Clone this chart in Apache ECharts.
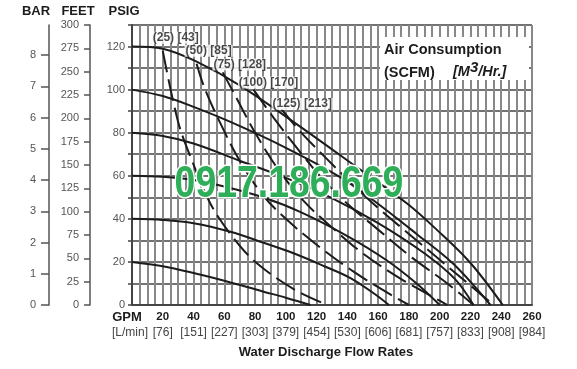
<!DOCTYPE html>
<html><head><meta charset="utf-8">
<script src="https://cdn.jsdelivr.net/npm/echarts@6/dist/echarts.min.js"></script>
<style>html,body{margin:0;padding:0;background:#fff}#c{width:577px;height:369px}</style>
</head><body><div id="c"></div>
<script>
// ---- data ----
const gpmTicks = [20,40,60,80,100,120,140,160,180,200,220,240,260];
const lpmTicks = [76,151,227,303,379,454,530,606,681,757,833,908,984];
const barTicks = [0,1,2,3,4,5,6,7,8];
// pump curves at inlet air pressure (GPM, PSIG)
const curve120 = [[0,120],[20,119],[42,113],[70,102],[107,84],[148,63],[179,47],[198,35],[220,19.5],[241,0]];
const curve100 = [[0,100],[20,97],[40,92],[64,85],[100,73],[135,59.5],[159,47.5],[185,33],[209,19],[233,0]];
const curve80  = [[0,80],[20,78.5],[40,75],[70,67],[100,59],[129,50],[160,38],[190,24],[210,12],[222,0]];
const curve60  = [[0,60],[20,59.5],[40,58],[60,55],[85,50],[110,43],[140,32],[165,21],[185,10],[200,0]];
const curve40  = [[0,40],[20,39.5],[40,38],[64,34],[85,29],[105,24],[125,18],[142,12.5],[158,5],[167,0]];
const curve20  = [[0,20],[20,18],[42,14.5],[60,11.3],[85,6.3],[100,3.4],[116,0]];
// air consumption lines
const scfm25  = [[20,118],[30,85],[39,67],[51,47],[65,32],[81,19.5],[106,7],[127,0]];
const scfm50  = [[42,112],[47,101],[57,85],[70,67],[85,51],[100,40],[120,28],[145,15],[170,4],[180,0]];
const scfm75  = [[59,108],[68,96],[80,80],[95,63],[112,48],[130,36],[150,24],[175,12],[200,2],[205,0]];
const scfm100 = [[79,100],[92,87],[106,74],[122,60],[140,47],[160,35],[182,22],[205,10],[222,0]];
const scfm125 = [[97,91],[110,80],[125,69],[142,57],[160,45],[180,33],[200,21],[220,9],[235,0]];
const scfmLabels = ['(25) [43]','(50) [85]','(75) [128]','(100) [170]','(125) [213]'];
const scfmLabelOffset = [[13,-13],[12,-13],[17,-8],[15,-7],[21,-5]];

const pumpCurves = [curve120,curve100,curve80,curve60,curve40,curve20];
const scfmCurves = [scfm25,scfm50,scfm75,scfm100,scfm125];

const chart = echarts.init(document.getElementById('c'));
const F = '"Liberation Sans", Arial, sans-serif';
const series = [];
pumpCurves.forEach(d => series.push({
  type:'line', data:d, smooth:0.35, showSymbol:false, silent:true,
  lineStyle:{color:'#1c1c1c', width:2}, z:3
}));
scfmCurves.forEach((d,i) => series.push({
  type:'line', data:d, smooth:0.35, showSymbol:false, silent:true,
  lineStyle:{color:'#1c1c1c', width:2, type:[22,7]}, z:3
}));
series.push({
  type:'scatter', symbolSize:0, silent:true, z:6,
  data: scfmCurves.map((d,i)=>({value:d[0], name:scfmLabels[i],
    label:{show:true, formatter:'{b}', offset:scfmLabelOffset[i], position:'inside',
      color:'#1c1c1c', fontFamily:F, fontSize:12, fontWeight:'bold',
      backgroundColor:'#fff', padding:[0,1]}}))
});

chart.setOption({
  animation:false,
  grid:{left:132, right:45, top:25, bottom:64},
  xAxis:{type:'value', min:0, max:260, interval:5,
    axisLine:{show:true, onZero:false, lineStyle:{color:'#444', width:2}},
    axisTick:{show:false},
    splitLine:{show:true, lineStyle:{color:'#888', width:2}},
    axisLabel:{margin:4, interval:0, lineHeight:16, formatter:v=>{
      if (v===0) return '{g|GPM}\n{h|[L/min]}';
      const i = gpmTicks.indexOf(v);
      return i<0 ? '' : '{a|'+v+'}\n{b|['+lpmTicks[i]+']}';
    }, rich:{
      a:{fontFamily:F, fontSize:11.5, fontWeight:'bold', color:'#1c1c1c', lineHeight:16},
      b:{fontFamily:F, fontSize:12, color:'#444', lineHeight:16},
      g:{fontFamily:F, fontSize:13, fontWeight:'bold', color:'#1c1c1c', lineHeight:16, padding:[0,10,0,0]},
      h:{fontFamily:F, fontSize:12, color:'#444', lineHeight:16, padding:[0,4,0,0]}
    }},
    name:'Water Discharge Flow Rates', nameLocation:'middle', nameGap:33,
    nameTextStyle:{fontFamily:F, fontSize:13, fontWeight:'bold', color:'#1c1c1c', padding:[0,12,0,0]}
  },
  yAxis:[
    {type:'value', min:0, max:130, interval:10, position:'left',
     name:'PSIG', nameLocation:'end', nameGap:7,
     nameTextStyle:{fontFamily:F, fontSize:13, fontWeight:'bold', color:'#1c1c1c', padding:[0,16,0,0]},
     axisLine:{show:true, lineStyle:{color:'#444', width:2}},
     axisTick:{show:true, length:4, lineStyle:{color:'#444', width:1.5}},
     splitLine:{show:true, lineStyle:{color:'#444', width:1.6}},
     axisLabel:{margin:7, fontFamily:F, fontSize:11, color:'#555', formatter:v=>v%20===0?String(v):''}},
    {type:'value', min:0, max:300, interval:25, position:'left', offset:42,
     name:'FEET', nameLocation:'end', nameGap:7,
     nameTextStyle:{fontFamily:F, fontSize:13, fontWeight:'bold', color:'#1c1c1c', padding:[0,24,0,0]},
     axisLine:{show:true, lineStyle:{color:'#555', width:1.5}},
     axisTick:{show:true, length:6, lineStyle:{color:'#555', width:1.5}},
     splitLine:{show:false},
     axisLabel:{margin:11, fontFamily:F, fontSize:11, color:'#555'}},
    {type:'value', min:0, max:130/14.5038, position:'left', offset:83,
     name:'BAR', nameLocation:'end', nameGap:7,
     nameTextStyle:{fontFamily:F, fontSize:13, fontWeight:'bold', color:'#1c1c1c', padding:[0,26,0,0]},
     axisLine:{show:true, lineStyle:{color:'#555', width:1.5}},
     axisTick:{show:true, length:8, customValues:barTicks, lineStyle:{color:'#555', width:1.5}},
     splitLine:{show:false},
     axisLabel:{margin:13, customValues:barTicks, fontFamily:F, fontSize:11, color:'#555'}}
  ],
  series:series,
  graphic:[
    {type:'rect', shape:{x:380, y:37, width:149, height:43}, style:{fill:'#fff'}, z:10},
    {type:'text', x:384, y:50, z:11, style:{text:'Air Consumption', font:'bold 14.5px '+F, fill:'#1c1c1c', verticalAlign:'middle'}},
    {type:'text', x:384, y:73, z:11, style:{text:'(SCFM)', font:'bold 14.5px '+F, fill:'#1c1c1c', verticalAlign:'middle'}},
    {type:'text', x:453, y:72, z:11, style:{text:'{m|[M}{s|3}{m|/Hr.]}', verticalAlign:'middle',
      rich:{m:{font:'italic bold 14.5px '+F, fill:'#1c1c1c'}, s:{font:'italic bold 15px '+F, fill:'#1c1c1c', padding:[0,0,9,0]}}}},
    {type:'text', x:289, y:185, scaleX:0.85, z:9, style:{text:'0917.186.669', font:'bold 44px "Liberation Sans", sans-serif',
      fill:'#2fae5a', stroke:'#ffffff', lineWidth:3, align:'center', verticalAlign:'middle'}}
  ]
});
</script></body></html>
